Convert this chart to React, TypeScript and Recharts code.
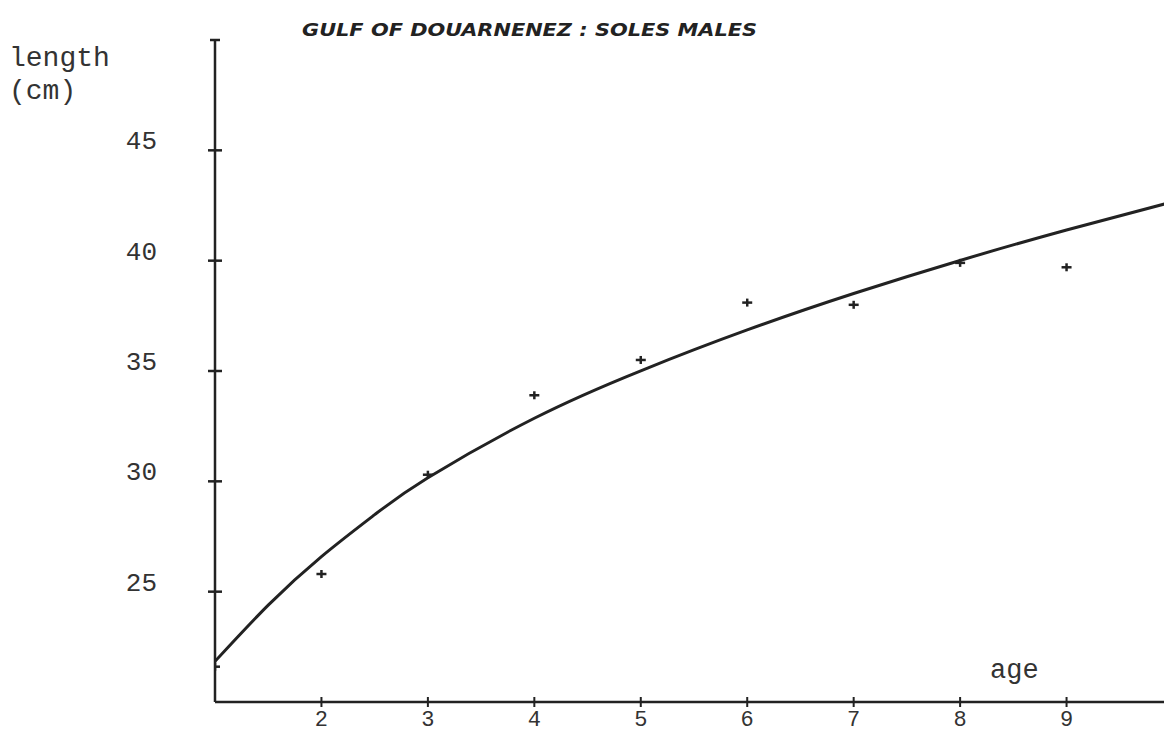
import React from "react";
import {
  ComposedChart,
  Line,
  Scatter,
  XAxis,
  YAxis
} from "recharts";

// fitted growth curve
const curveAges = [1, 1.5, 2, 2.5, 3, 4, 5, 6, 7, 8, 9, 10];
const curveLengths = [21.84, 24.39, 26.59, 28.49, 30.16, 32.86, 35.01, 36.86, 38.51, 40.01, 41.39, 42.67];

// observed mean lengths per age
const obsAges = [1, 2, 3, 4, 5, 6, 7, 8, 9];
const obsLengths = [21.6, 25.8, 30.3, 33.9, 35.5, 38.1, 38.0, 39.9, 39.7];

const xTicks = [2, 3, 4, 5, 6, 7, 8, 9];
const yTicks = [25, 30, 35, 40, 45, 50];

const curveData = curveAges.map((age, i) => ({ age, fit: curveLengths[i] }));
const obsData = obsAges.map((age, i) => ({ age, length: obsLengths[i] }));

const INK = "#222";
const MONO = "'Liberation Mono', 'DejaVu Sans Mono', monospace";

const YTick = (props: any) => {
  const { x, y, payload } = props;
  const top = payload.value === 50;
  return (
    <g>
      <line x1={x - (top ? 5 : 7)} x2={x + (top ? 5 : 7)} y1={y} y2={y} stroke={INK} strokeWidth={2.5} />
      {!top && (
        <text x={x - 58} y={y - 1} textAnchor="end" fontFamily={MONO} fontSize={26} fill="#333">
          {payload.value}
        </text>
      )}
    </g>
  );
};

const XTick = (props: any) => {
  const { x, y, payload } = props;
  return (
    <g>
      <line x1={x} x2={x} y1={y - 5} y2={y + 5} stroke={INK} strokeWidth={2} />
      <text x={x} y={y + 24} textAnchor="middle" fontFamily={MONO} fontSize={22} fill="#333">
        {payload.value}
      </text>
    </g>
  );
};

const Cross = (props: any) => {
  const { cx, cy } = props;
  return (
    <g stroke={INK} strokeWidth={2.5}>
      <line x1={cx - 5} x2={cx + 5} y1={cy} y2={cy} />
      <line x1={cx} x2={cx} y1={cy - 4} y2={cy + 4} />
    </g>
  );
};

export default function App() {
  return (
    <div
      style={{
        position: "fixed",
        left: 0,
        top: 0,
        width: 1164,
        height: 734,
        overflow: "hidden",
        background: "#fff"
      }}
    >
      <ComposedChart
        width={1200}
        height={734}
        data={curveData}
        margin={{ top: 40, right: 27, left: 0, bottom: 0 }}
      >
        <XAxis
          dataKey="age"
          type="number"
          domain={[1, 10]}
          ticks={xTicks}
          allowDataOverflow
          height={32}
          stroke={INK}
          strokeWidth={2.5}
          tickSize={0}
          tickMargin={0}
          tick={<XTick />}
        />
        <YAxis
          type="number"
          domain={[20, 50]}
          ticks={yTicks}
          allowDataOverflow
          width={215}
          stroke={INK}
          strokeWidth={2.5}
          tickSize={0}
          tickMargin={0}
          tick={<YTick />}
        />
        <Line
          type="natural"
          dataKey="fit"
          stroke={INK}
          strokeWidth={3}
          dot={false}
          isAnimationActive={false}
        />
        <Scatter
          data={obsData}
          dataKey="length"
          shape={<Cross />}
          isAnimationActive={false}
        />
      </ComposedChart>
      <svg
        width={1164}
        height={734}
        style={{ position: "absolute", left: 0, top: 0, pointerEvents: "none" }}
      >
        <text
          x={302}
          y={36}
          textLength={455}
          lengthAdjust="spacingAndGlyphs"
          fontFamily="'DejaVu Sans', sans-serif"
          fontWeight="bold"
          fontStyle="italic"
          fontSize={17}
          fill={INK}
        >
          GULF OF DOUARNENEZ :  SOLES MALES
        </text>
        <text x={9} y={66} fontFamily={MONO} fontSize={28} fill="#333">length</text>
        <text x={9} y={99} fontFamily={MONO} fontSize={28} fill="#333">(cm)</text>
        <text x={990} y={678} fontFamily={MONO} fontSize={27} fill="#333">age</text>
      </svg>
    </div>
  );
}
